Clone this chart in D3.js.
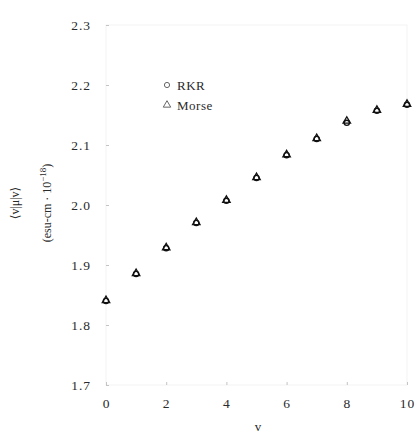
<!DOCTYPE html>
<html>
<head>
<meta charset="utf-8">
<script src="https://cdn.jsdelivr.net/npm/d3@7"></script>
<style>
  html, body { margin: 0; padding: 0; background: #fff; }
  svg { display: block; }
  svg text { font-family: "Liberation Serif", "DejaVu Serif", serif !important; fill: #2a2a2a; }
</style>
</head>
<body>
<svg id="chart" width="418" height="433"></svg>
<script>
// Vibrational level v and the dipole moment for each level
const levels = [0, 1, 2, 3, 4, 5, 6, 7, 8, 9, 10];
const rkrValues = [1.840, 1.885, 1.928, 1.970, 2.007, 2.045, 2.083, 2.110, 2.137, 2.157, 2.167];
const morseValues = [1.841, 1.886, 1.929, 1.971, 2.008, 2.046, 2.084, 2.111, 2.140, 2.158, 2.168];
const xTicks = [0, 2, 4, 6, 8, 10];
const yTicks = [1.7, 1.8, 1.9, 2.0, 2.1, 2.2, 2.3];
const seriesNames = ["RKR", "Morse"];

const svg = d3.select("#chart");
const x = d3.scaleLinear().domain([0, 10]).range([106, 407]);
const y = d3.scaleLinear().domain([1.7, 2.3]).range([385, 25]);

// faint plot frame
svg.append("rect")
  .attr("x", x(0)).attr("y", y(2.3))
  .attr("width", x(10) - x(0)).attr("height", y(1.7) - y(2.3))
  .attr("fill", "none").attr("stroke", "#f3f3f3").attr("stroke-width", 1);

function styleAxis(g) {
  g.select(".domain").remove();
  g.selectAll(".tick line").attr("stroke", "#c4c4c4");
  g.selectAll(".tick text")
    .attr("font-size", 13.5)
    .style("letter-spacing", "1px")
    .style("fill", "#2a2a2a");
}

svg.append("g")
  .attr("transform", `translate(${x(0)},0)`)
  .call(d3.axisLeft(y).tickValues(yTicks).tickFormat(d3.format(".1f"))
    .tickSizeInner(-3).tickSizeOuter(0).tickPadding(15))
  .call(styleAxis);

svg.append("g")
  .attr("transform", `translate(0,${y(1.7)})`)
  .call(d3.axisBottom(x).tickValues(xTicks).tickFormat(d3.format("d"))
    .tickSizeInner(-3).tickSizeOuter(0).tickPadding(13))
  .call(styleAxis);

// axis titles
svg.append("text")
  .attr("x", 258).attr("y", 431)
  .attr("text-anchor", "middle").attr("font-size", 13)
  .text("v");

const yTitle = svg.append("g").attr("transform", "translate(0,203) rotate(-90)");
yTitle.append("text")
  .attr("x", 0).attr("y", 19)
  .attr("text-anchor", "middle").attr("font-size", 12)
  .text("⟨v|μ|v⟩");
const t2 = yTitle.append("text")
  .attr("x", 0).attr("y", 51)
  .attr("text-anchor", "middle").attr("font-size", 12);
t2.append("tspan").text("(esu-cm · 10");
t2.append("tspan").attr("dy", -5).attr("font-size", 9).text("−18");
t2.append("tspan").attr("dy", 5).text(")");

// data markers
const triangle = d3.symbol().type(d3.symbolTriangle).size(24);

svg.append("g").selectAll("circle")
  .data(levels.map((v, i) => ({ v, val: rkrValues[i] })))
  .join("circle")
  .attr("cx", d => x(d.v)).attr("cy", d => y(d.val)).attr("r", 2.6)
  .attr("fill", "none").attr("stroke", "#111").attr("stroke-width", 1.4);

svg.append("g").selectAll("path")
  .data(levels.map((v, i) => ({ v, val: morseValues[i] })))
  .join("path")
  .attr("d", triangle)
  .attr("transform", d => `translate(${x(d.v)},${y(d.val)})`)
  .attr("fill", "none").attr("stroke", "#111").attr("stroke-width", 1.3);

// legend
const legend = svg.append("g").attr("transform", "translate(167,85)");
legend.append("circle").attr("cx", 0).attr("cy", 0).attr("r", 2.6)
  .attr("fill", "none").attr("stroke", "#666").attr("stroke-width", 1);
legend.append("path").attr("d", triangle).attr("transform", "translate(0,20)")
  .attr("fill", "none").attr("stroke", "#666").attr("stroke-width", 1);
legend.selectAll("text.lbl")
  .data(seriesNames)
  .join("text").attr("class", "lbl")
  .attr("x", 10).attr("y", (d, i) => i * 20)
  .attr("dy", "0.35em").attr("font-size", 13)
  .style("letter-spacing", "0.5px")
  .text(d => d);
</script>
</body>
</html>
